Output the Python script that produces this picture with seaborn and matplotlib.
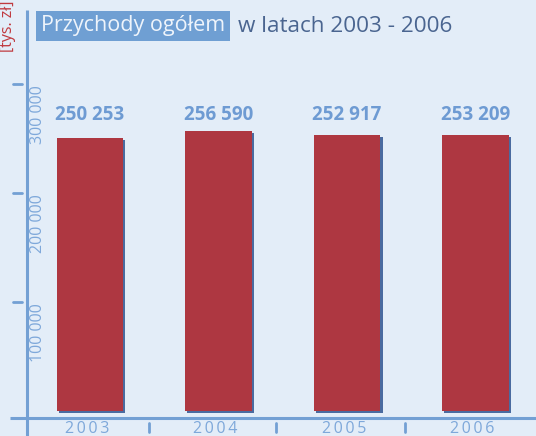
import matplotlib
matplotlib.use("Agg")
import matplotlib.pyplot as plt
import matplotlib.patheffects as pe
import pandas as pd
import seaborn as sns

years = ["2003", "2004", "2005", "2006"]
revenue = [250253, 256590, 252917, 253209]
value_labels = ["250 253", "256 590", "252 917", "253 209"]
y_ticks = [100000, 200000, 300000]
y_tick_labels = ["100 000", "200 000", "300 000"]

bg = "#e3edf8"
axis_blue = "#73a0d4"
bar_red = "#ae3741"
shadow_blue = "#4a6ba0"
title_dark = "#4a6590"

sns.set_style("white")
plt.rcParams["font.family"] = ["Open Sans", "DejaVu Sans"]

df = pd.DataFrame({"year": years, "value": revenue})

fig = plt.figure(figsize=(5.36, 4.36), dpi=100, facecolor=bg)
W, H = 536, 436
ax = fig.add_axes([27 / W, (H - 418) / H, 1 - 27 / W, (418 - 10) / H])
ax.set_facecolor(bg)

sns.barplot(df, x="year", y="value", color=bar_red, width=0.52,
            saturation=1, linewidth=0, ax=ax, zorder=3)
for p in ax.patches:
    p.set_path_effects([pe.SimplePatchShadow(offset=(1.5, -1.5),
                                             shadow_rgbFace=shadow_blue, alpha=1),
                        pe.Normal()])

ax.set_ylim(-6422, 367890)
ax.set_xlim(-0.49, 3.47)
for s in ax.spines.values():
    s.set_visible(False)
ax.set_xticks([])
ax.set_yticks([])
ax.set_xlabel("")
ax.set_ylabel("")

# axis lines
ax.plot([-17 / 509, 1], [0, 0], transform=ax.transAxes, color=axis_blue,
        lw=2.2, clip_on=False, solid_capstyle="butt")
ax.plot([0, 0], [-18 / 408, 1], transform=ax.transAxes, color=axis_blue,
        lw=2.2, clip_on=False, solid_capstyle="butt")

# y ticks and labels
ytr = ax.get_yaxis_transform()
for v, lab in zip(y_ticks, y_tick_labels):
    ax.plot([-14 / 509, -5 / 509], [v, v], transform=ytr, color=axis_blue,
            lw=2, clip_on=False)
    ax.text(11 / 509, v - 1200, lab, transform=ytr, rotation=90, ha="center",
            va="top", color="#7ea8da", fontsize=11.5)

# x separators and labels
xtr = ax.get_xaxis_transform()
for xv in [0.458, 1.445, 2.447]:
    ax.plot([xv, xv], [-5 / 408, -14 / 408], transform=xtr, color=axis_blue,
            lw=2, clip_on=False)
for i, y in enumerate(years):
    ax.text(i - 0.025, -3 / 408, "\u2009".join(y), transform=xtr, ha="center",
            va="top", color="#7ea8da", fontsize=11.5)

# value labels
for i, (v, lab) in enumerate(zip(revenue, value_labels)):
    ax.text(i, 272000, lab, ha="center", va="center", color="#6e9bd3",
            fontsize=13.5, fontweight="bold")

# unit label
fig.text(8 / W, 1 - 1 / H, "[tys. zł]", rotation=90, ha="center", va="top",
         color="#c0393f", fontsize=11.5)

# title
t1 = fig.text(41 / W, 1 - 26 / H, "Przychody ogółem", ha="left", va="center",
              color="#eef4fb", fontsize=15.5,
              bbox=dict(facecolor="#6f9fd3", edgecolor="none", pad=3.5))
ax.annotate("w latach 2003 - 2006", xy=(1, 0.5), xycoords=t1,
            xytext=(9, 0), textcoords="offset points", ha="left",
            va="center", color=title_dark, fontsize=16.2, annotation_clip=False)

fig.savefig("out.png", dpi=100, facecolor=bg)
